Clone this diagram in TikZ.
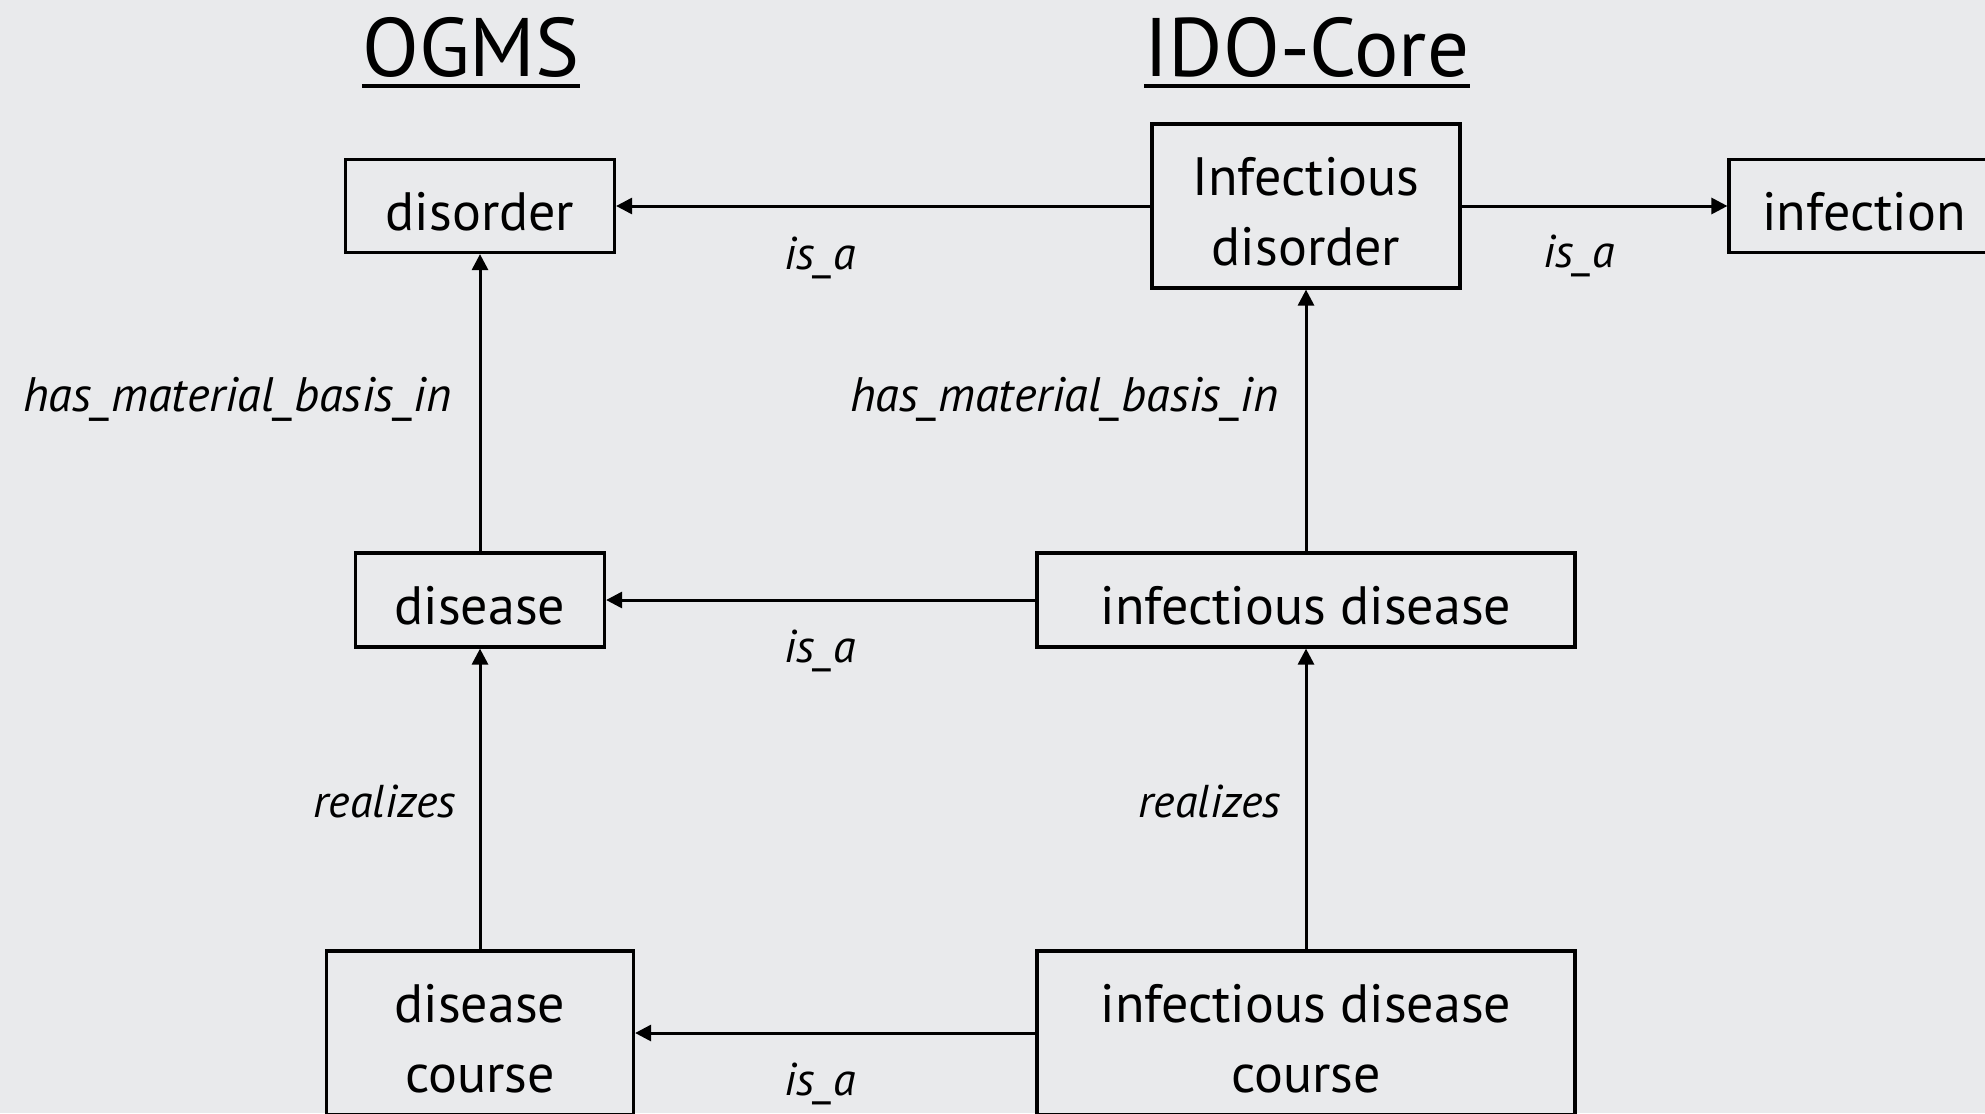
\documentclass[tikz,border=0pt]{standalone}
\usepackage{fontspec}
\setmainfont{PT Sans}
\usetikzlibrary{arrows.meta,calc}
\definecolor{bg}{RGB}{233,234,236}
\newcommand{\tstrut}{\rule{0pt}{24.5pt}}
\begin{document}
\begin{tikzpicture}[x=0.5pt,y=-0.5pt,
  box/.style={draw=black,line width=1.6pt,align=center,inner sep=0pt,font=\fontsize{27}{35}\selectfont},
  rel/.style={font=\fontsize{23}{28}\selectfont\itshape,inner sep=0pt},
  title/.style={font=\fontsize{41.5}{48}\selectfont,inner sep=0pt,anchor=base},
  uline/.style={line width=2.4pt},
  link/.style={line width=1.5pt,-{Triangle[length=8pt,width=8pt]}}]
\fill[bg] (0,0) rectangle (1985,1113);
\useasboundingbox (0,0) rectangle (1985,1113);
\clip (0,0) rectangle (1985,1113);
% titles
\node[title] (ogms) at (471,76) {OGMS};
\node[title] (ido) at (1307,76) {IDO-Core};
\draw[uline] ($(ogms.base west)+(0,10)$) -- ($(ogms.base east)+(0,10)$);
\draw[uline] ($(ido.base west)+(0,10)$) -- ($(ido.base east)+(0,10)$);
% boxes
\node[box,minimum width=134.5pt,minimum height=46.5pt] (disorder) at (480,206) {\tstrut disorder};
\node[box,minimum width=154pt,minimum height=82pt] (infdis) at (1306,206) {\tstrut Infectious\\disorder};
\node[box,minimum width=135pt,minimum height=46.5pt] (infection) at (1864,206) {\tstrut infection};
\node[box,minimum width=124.5pt,minimum height=47pt] (disease) at (480,600) {\tstrut disease};
\node[box,minimum width=269pt,minimum height=47pt] (infdisease) at (1306,600) {\tstrut infectious disease};
\node[box,minimum width=153.5pt,minimum height=82pt] (course) at (480,1033) {\tstrut disease\\course};
\node[box,minimum width=269pt,minimum height=82pt] (infcourse) at (1306,1033) {\tstrut infectious disease\\course};
% connectors
\draw[link] (infdis.west) -- (disorder.east);
\draw[link] (infdis.east) -- (infection.west);
\draw[link] (infdisease.west) -- (disease.east);
\draw[link] (infcourse.west) -- (course.east);
\draw[link] (disease.north) -- (disorder.south);
\draw[link] (infdisease.north) -- (infdis.south);
\draw[link] (course.north) -- (disease.south);
\draw[link] (infcourse.north) -- (infdisease.south);
% labels
\node[rel] (l1) at (820,258) {is\_a};
\node[rel] (l2) at (1579,256) {is\_a};
\node[rel] (l3) at (820,651) {is\_a};
\node[rel] (l4) at (820,1084) {is\_a};
\node[rel,anchor=east,font=\fontsize{24.2}{28}\selectfont\itshape] (l5) at (452,399) {has\_material\_basis\_in};
\node[rel,anchor=east,font=\fontsize{24.2}{28}\selectfont\itshape] (l6) at (1279,399) {has\_material\_basis\_in};
\node[rel,anchor=east] (l7) at (456,801) {realizes};
\node[rel,anchor=east] (l8) at (1281,801) {realizes};
\end{tikzpicture}
\end{document}
